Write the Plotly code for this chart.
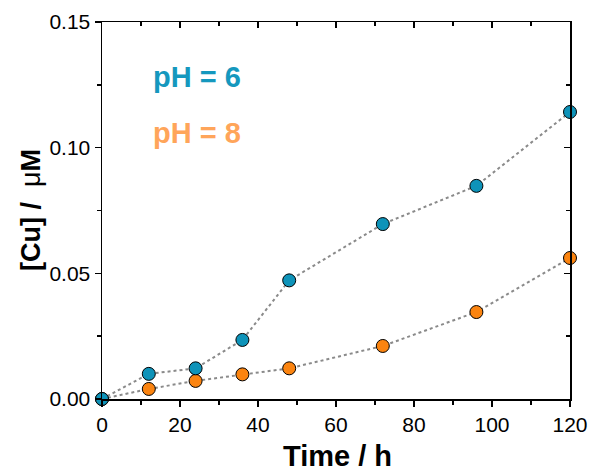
import plotly.graph_objects as go

time_h = [0, 12, 24, 36, 48, 72, 96, 120]
cu_ph6 = [0.0, 0.0100, 0.0122, 0.0235, 0.0472, 0.0696, 0.0848, 0.1142]
cu_ph8 = [0.0, 0.0040, 0.0072, 0.0098, 0.0122, 0.0211, 0.0346, 0.0561]
x_ticks = [0, 20, 40, 60, 80, 100, 120]
y_ticks = [0.00, 0.05, 0.10, 0.15]
y_tick_labels = ["0.00", "0.05", "0.10", "0.15"]

FONT = "Arial, Liberation Sans, sans-serif"
BLUE = "#0E93B9"
ORANGE = "#FB8410"
BLUE_TXT = "#1598BE"
ORANGE_TXT = "#FFA55A"

fig = go.Figure()
fig.add_trace(go.Scatter(
    x=time_h, y=cu_ph8, mode="lines+markers",
    line=dict(color="#8a8a8a", width=2, dash="dot"),
    marker=dict(size=13, color=ORANGE, line=dict(color="black", width=1)),
    cliponaxis=False, showlegend=False))
fig.add_trace(go.Scatter(
    x=time_h, y=cu_ph6, mode="lines+markers",
    line=dict(color="#8a8a8a", width=2, dash="dot"),
    marker=dict(size=13, color=BLUE, line=dict(color="black", width=1)),
    cliponaxis=False, showlegend=False))
# invisible trace to activate mirror axes
fig.add_trace(go.Scatter(x=[0], y=[0], xaxis="x2", yaxis="y2",
                         mode="markers", marker=dict(opacity=0),
                         showlegend=False, hoverinfo="skip"))

axis_common = dict(showline=True, linecolor="black", linewidth=1.5,
                   showgrid=False, zeroline=False, ticklen=6, tickwidth=1.5,
                   tickcolor="black", automargin=False)

fig.update_layout(
    width=590, height=472,
    margin=dict(l=102, r=20, t=22, b=73),
    paper_bgcolor="white", plot_bgcolor="white",
    font=dict(family=FONT, color="black"),
    xaxis=dict(range=[0, 120], tickvals=x_ticks, ticks="outside",
               minor=dict(dtick=10, ticks="outside", ticklen=4, tickwidth=1.5, tickcolor="black"),
               tickfont=dict(size=21), ticklabeloverflow="allow",
               **axis_common),
    yaxis=dict(range=[0, 0.15], tickvals=y_ticks, ticktext=y_tick_labels, ticks="outside",
               minor=dict(dtick=0.025, ticks="outside", ticklen=4, tickwidth=1.5, tickcolor="black"),
               tickfont=dict(size=21), ticklabeloverflow="allow",
               **axis_common),
    xaxis2=dict(range=[0, 120], overlaying="x", side="top", anchor="y",
                tickvals=x_ticks, ticks="inside", showticklabels=False,
                minor=dict(dtick=10, ticks="inside", ticklen=4, tickwidth=1.5, tickcolor="black"),
                **axis_common),
    yaxis2=dict(range=[0, 0.15], overlaying="y", side="right", anchor="x",
                tickvals=y_ticks, ticks="inside", showticklabels=False,
                minor=dict(dtick=0.025, ticks="inside", ticklen=4, tickwidth=1.5, tickcolor="black"),
                **axis_common),
    annotations=[
        dict(x=24.4, y=0.128, xref="x", yref="y", text="<b>pH = 6</b>", showarrow=False,
             font=dict(size=29, color=BLUE_TXT, family=FONT), xanchor="center", yanchor="middle"),
        dict(x=24.4, y=0.1058, xref="x", yref="y", text="<b>pH = 8</b>", showarrow=False,
             font=dict(size=29, color=ORANGE_TXT, family=FONT), xanchor="center", yanchor="middle"),
        dict(x=(337 - 102) / 468, y=(399 - 456) / 377, xref="paper", yref="paper",
             text="<b>Time / h</b>", showarrow=False, font=dict(size=29, family=FONT),
             xanchor="center", yanchor="middle"),
        dict(x=(31 - 102) / 468, y=(399 - 210) / 377, xref="paper", yref="paper",
             text="<b>[Cu] /  </b>μ<b>M</b>", showarrow=False, textangle=-90,
             font=dict(size=27, family=FONT), xanchor="center", yanchor="middle"),
    ],
)

fig.write_html("out.html",
               config={"displayModeBar": False, "staticPlot": True},
               post_script="document.body.style.margin='0';document.body.style.overflow='hidden';")
